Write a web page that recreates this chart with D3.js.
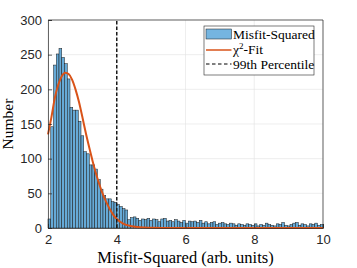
<!DOCTYPE html>
<html>
<head>
<meta charset="utf-8">
<script src="https://cdn.jsdelivr.net/npm/d3@7.9.0/dist/d3.min.js"></script>
<style>
  body { margin: 0; background: #fff; }
  svg { display: block; }
</style>
</head>
<body>
<svg id="chart" width="357" height="268"></svg>
<script>
// Histogram bins: 100 bins of width 0.08 from 2 to 10
const binStart = 2;
const binWidth = 0.08;
const counts = [
  13, 146, 235, 251, 259, 246, 237, 215, 174, 170,
  170, 154, 133, 110, 107, 91, 91, 85, 70, 56,
  47, 42, 42, 38, 37, 34, 31, 28, 26, 12,
  15, 16, 14, 11, 13, 12, 14, 11, 13, 12,
  9, 13, 14, 10, 11, 9, 12, 10, 8, 11,
  7, 10, 9, 10, 8, 11, 7, 9, 6, 8,
  9, 5, 7, 8, 6, 5, 7, 6, 4, 6,
  5, 4, 6, 5, 4, 6, 3, 5, 4, 7,
  5, 4, 3, 6, 5, 8, 4, 3, 5, 7,
  8, 4, 6, 5, 3, 6, 5, 7, 4, 5
];

// Chi-squared fit curve
const fitX = [2.0, 2.1, 2.2, 2.3, 2.4, 2.5, 2.6, 2.7, 2.8, 2.9, 3.0, 3.1, 3.2, 3.3, 3.4, 3.5,
  3.6, 3.7, 3.8, 3.9, 4.0, 4.2, 4.4, 4.6, 4.8, 5.0, 5.5, 6, 7, 8, 9, 10];
const fitY = [135, 160, 188, 207, 219, 224, 222, 214, 200, 182, 160, 137, 116, 96, 78, 62,
  48, 37, 27, 19, 13, 6, 3, 1.5, 0.8, 0.4, 0.1, 0, 0, 0, 0, 0];

const percentile99 = 4;
const xTicks = [2, 4, 6, 8, 10];
const yTicks = [0, 50, 100, 150, 200, 250, 300];

const margin = { left: 48, right: 34, top: 20, bottom: 40 };
const width = 357, height = 268;

const svg = d3.select("#chart");

const x = d3.scaleLinear().domain([2, 10]).range([margin.left, width - margin.right]);
const y = d3.scaleLinear().domain([0, 300]).range([height - margin.bottom, margin.top]);

const axisColor = "#262626";

// grid
const grid = svg.append("g");
grid.selectAll("line.gx").data(xTicks).join("line")
  .attr("x1", d => x(d)).attr("x2", d => x(d))
  .attr("y1", y(0)).attr("y2", y(300))
  .attr("stroke", "#e3e3e3").attr("stroke-width", 0.6);
grid.selectAll("line.gy").data(yTicks).join("line")
  .attr("x1", x(2)).attr("x2", x(10))
  .attr("y1", d => y(d)).attr("y2", d => y(d))
  .attr("stroke", "#e3e3e3").attr("stroke-width", 0.6);

// bars
svg.append("g").selectAll("rect").data(counts).join("rect")
  .attr("x", (d, i) => x(binStart + i * binWidth))
  .attr("width", (d, i) => x(binStart + (i + 1) * binWidth) - x(binStart + i * binWidth))
  .attr("y", d => y(d))
  .attr("height", d => y(0) - y(d))
  .attr("fill", "rgb(102,170,215)")
  .attr("stroke", "#1a1a1a")
  .attr("stroke-width", 0.5);

// fit curve
const line = d3.line().x(d => x(d[0])).y(d => y(d[1])).curve(d3.curveMonotoneX);
svg.append("path")
  .datum(fitX.map((v, i) => [v, fitY[i]]))
  .attr("d", line)
  .attr("fill", "none")
  .attr("stroke", "#D95319")
  .attr("stroke-width", 2);

// 99th percentile
svg.append("line")
  .attr("x1", x(percentile99)).attr("x2", x(percentile99))
  .attr("y1", y(0)).attr("y2", y(300))
  .attr("stroke", "#1a1a1a").attr("stroke-width", 1.5)
  .attr("stroke-dasharray", "3.5,2");

// axes
const xAxis = d3.axisBottom(x).tickValues(xTicks).tickSize(-4).tickPadding(7);
const yAxis = d3.axisLeft(y).tickValues(yTicks).tickSize(-4).tickPadding(6);

const gx = svg.append("g").attr("transform", `translate(0,${y(0)})`).call(xAxis);
const gy = svg.append("g").attr("transform", `translate(${x(2)},0)`).call(yAxis);
[gx, gy].forEach(g => {
  g.select(".domain").attr("stroke", axisColor).attr("stroke-width", 0.7);
  g.selectAll(".tick line").attr("stroke", axisColor).attr("stroke-width", 0.7);
  g.selectAll(".tick text").attr("fill", axisColor)
    .style("font-family", "'Liberation Sans', Arial, sans-serif").style("font-size", "13px");
});

// top and right box lines
svg.append("line").attr("x1", x(2)).attr("x2", x(10)).attr("y1", y(300)).attr("y2", y(300))
  .attr("stroke", axisColor).attr("stroke-width", 0.7);
svg.append("line").attr("x1", x(10)).attr("x2", x(10)).attr("y1", y(0)).attr("y2", y(300))
  .attr("stroke", axisColor).attr("stroke-width", 0.7);

const serif = "'Liberation Serif', 'DejaVu Serif', serif";

// axis labels
svg.append("text")
  .attr("x", (x(2) + x(10)) / 2).attr("y", 263)
  .attr("text-anchor", "middle")
  .style("font-family", serif).style("font-size", "16.5px").attr("fill", "#000")
  .text("Misfit-Squared (arb. units)");

svg.append("text")
  .attr("transform", `translate(13,${(y(0) + y(300)) / 2}) rotate(-90)`)
  .attr("text-anchor", "middle")
  .style("font-family", serif).style("font-size", "15.5px").attr("fill", "#000")
  .text("Number");

// legend
const lg = svg.append("g").attr("transform", "translate(204,26)");
lg.append("rect").attr("width", 110).attr("height", 49)
  .attr("fill", "#fff").attr("stroke", "#262626").attr("stroke-width", 0.6);
lg.append("rect").attr("x", 2).attr("y", 3).attr("width", 25.5).attr("height", 10)
  .attr("fill", "rgb(117,181,224)").attr("stroke", "#1a1a1a").attr("stroke-width", 0.5);
lg.append("line").attr("x1", 2).attr("x2", 27.5).attr("y1", 24).attr("y2", 24)
  .attr("stroke", "#D95319").attr("stroke-width", 1.5);
lg.append("line").attr("x1", 2).attr("x2", 27.5).attr("y1", 38).attr("y2", 38)
  .attr("stroke", "#000").attr("stroke-width", 1)
  .attr("stroke-dasharray", "3.5,2.5");

const legendText = lg.append("g")
  .style("font-family", serif).style("font-size", "13.5px").attr("fill", "#000");
legendText.append("text").attr("x", 29).attr("y", 12.5).text("Misfit-Squared");
const chi = legendText.append("text").attr("x", 29).attr("y", 28);
chi.append("tspan").text("\u03c7");
chi.append("tspan").attr("dy", -5).style("font-size", "9px").text("2");
chi.append("tspan").attr("dy", 5).text("-Fit");
legendText.append("text").attr("x", 29).attr("y", 42.5).text("99th Percentile");
</script>
</body>
</html>
